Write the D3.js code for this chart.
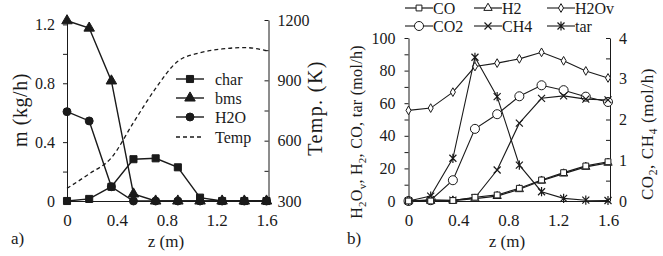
<!DOCTYPE html>
<html><head><meta charset="utf-8">
<script src="https://cdn.jsdelivr.net/npm/d3@7"></script>
<style>
body{margin:0;background:#fff}
svg{display:block}
text{font-family:"Liberation Serif","Times New Roman",serif;fill:#1a1a1a}
</style>
</head><body>
<svg id="c" width="663" height="256"></svg>
<script>
// ---------- data ----------
const zVals = [0, 0.178, 0.356, 0.533, 0.711, 0.889, 1.067, 1.244, 1.422, 1.6];
const xTicks = [0, 0.4, 0.8, 1.2, 1.6];

// panel a (kg/h and K)
const charVals = [0, 0.014, 0.097, 0.284, 0.29, 0.229, 0.023, 0, 0, 0];
const bmsVals  = [1.225, 1.175, 0.816, 0.048, 0, 0, 0, 0, 0, 0];
const h2oVals  = [0.607, 0.544, 0.097, 0, 0, 0, 0, 0, 0, 0];
const tempVals = [363, 435, 515, 690, 860, 995, 1037, 1056, 1063, 1048];
const aLeftTicks  = [0, 0.2, 0.4, 0.6, 0.8, 1, 1.2];
const aLeftLabels = [0, 0.4, 0.8, 1.2];
const aRightTicks = [300, 450, 600, 750, 900, 1050, 1200];
const aRightLabels = [300, 600, 900, 1200];

// panel b (mol/h)
const coVals   = [0, 0, 0.3, 2.3, 3.7, 7.8, 12.9, 17.4, 21.5, 24.1];
const h2Vals   = [0, 0, 0.2, 1.4, 3.0, 7.2, 12.4, 16.8, 20.9, 23.4];
const h2ovVals = [55.6, 57.0, 66.8, 82.5, 84.6, 87.2, 91.2, 86.0, 79.8, 75.5];
const tarVals  = [0, 3, 26.2, 88.2, 64, 22, 5.7, 1.6, 0.5, 0.3];
const co2Vals  = [0, 0.02, 0.51, 1.77, 2.13, 2.57, 2.84, 2.72, 2.56, 2.43];
const ch4Vals  = [0, 0.03, 0.02, 0.08, 0.76, 1.91, 2.52, 2.58, 2.5, 2.48];
const bLeftTicks  = [0, 10, 20, 30, 40, 50, 60, 70, 80, 90, 100];
const bLeftLabels = [0, 20, 40, 60, 80, 100];
const bRightTicks = [0, 0.5, 1, 1.5, 2, 2.5, 3, 3.5, 4];
const bRightLabels = [0, 1, 2, 3, 4];

// ---------- drawing ----------
const svg = d3.select("#c");
const INK = "#1a1a1a";
const FONT = '"Liberation Serif","Times New Roman",serif';

const xPath = "M-3.5,-3.5L3.5,3.5M-3.5,3.5L3.5,-3.5";
const starPath = "M-3.5,-3.5L3.5,3.5M-3.5,3.5L3.5,-3.5M0,-4.6L0,4.6";

function markerPath(type, size) {
  if (type === "x") return xPath;
  if (type === "star") return starPath;
  const t = {square: d3.symbolSquare, triangle: d3.symbolTriangle,
             circle: d3.symbolCircle, diamond: d3.symbolDiamond}[type];
  return d3.symbol().type(t).size(size)();
}

function styleAxis(fs) {
  return g => {
    g.attr("font-family", FONT);
    g.selectAll("path.domain").attr("stroke", INK).attr("stroke-width", 1);
    g.selectAll(".tick line").attr("stroke", INK).attr("stroke-width", 1);
    g.selectAll("text").attr("font-size", fs).attr("fill", INK).style("font-family", FONT);
  };
}

function series(g, x, y, vals, opt) {
  const line = d3.line().x((d, i) => x(zVals[i])).y(d => y(d));
  if (opt.curve) line.curve(opt.curve);
  g.append("path").attr("d", line(vals)).attr("fill", "none")
    .attr("stroke", INK).attr("stroke-width", opt.lw || 1.2)
    .attr("stroke-dasharray", opt.dash || null);
  if (!opt.marker) return;
  g.selectAll(null).data(vals).enter().append("path")
    .attr("transform", (d, i) => `translate(${x(zVals[i])},${y(d)})`)
    .attr("d", markerPath(opt.marker, opt.size))
    .attr("fill", opt.fill).attr("stroke", INK)
    .attr("stroke-width", opt.mlw || 1);
}

function legendEntry(g, lx, ly, opt, label, fs) {
  g.append("line").attr("x1", lx - 14).attr("x2", lx + 14).attr("y1", ly).attr("y2", ly)
    .attr("stroke", INK).attr("stroke-width", opt.lw || 1.2)
    .attr("stroke-dasharray", opt.dash || null);
  if (opt.marker) g.append("path").attr("transform", `translate(${lx},${ly})`)
    .attr("d", markerPath(opt.marker, opt.size))
    .attr("fill", opt.fill).attr("stroke", INK).attr("stroke-width", opt.mlw || 1);
  return g.append("text").attr("x", lx + opt.tx).attr("y", ly).attr("dy", "0.35em")
    .attr("font-size", fs).text(label);
}

function subText(g, tx, ty, parts, fs, spacing) {
  const t = g.append("text").attr("transform", `translate(${tx},${ty}) rotate(-90)`)
    .attr("text-anchor", "middle").attr("font-size", fs)
    .attr("letter-spacing", spacing || 0);
  parts.forEach((p, i) => {
    const s = t.append("tspan").text(p[0]);
    if (p[1]) s.attr("font-size", fs * 0.68).attr("dy", 4);
    else if (i > 0 && parts[i - 1][1]) s.attr("dy", -4);
  });
  return t;
}

// ===== panel a =====
{
  const g = svg.append("g");
  const x = d3.scaleLinear().domain([0, 1.6]).range([67, 266.5]);
  const yL = d3.scaleLinear().domain([0, 1.23]).range([201, 20]);
  const yR = d3.scaleLinear().domain([300, 1200]).range([201, 20]);

  g.append("g").attr("transform", "translate(0,201)")
    .call(d3.axisBottom(x).tickValues(xTicks).tickSize(0).tickPadding(13)
      .tickFormat(d3.format("")))
    .call(styleAxis(17));
  g.append("g").attr("transform", "translate(67,0)")
    .call(d3.axisLeft(yL).tickValues(aLeftTicks).tickSizeInner(4).tickSizeOuter(0)
      .tickPadding(8).tickFormat(d => aLeftLabels.includes(d) ? d3.format("")(d) : ""))
    .call(styleAxis(16));
  g.append("g").attr("transform", `translate(${x(1.6) + 2},0)`)
    .call(d3.axisRight(yR).tickValues(aRightTicks).tickSizeInner(-4).tickSizeOuter(0)
      .tickPadding(9).tickFormat(d => aRightLabels.includes(d) ? d : ""))
    .call(styleAxis(16));

  const optChar = {marker: "square", size: 50, fill: INK, lw: 1.4};
  const optBms  = {marker: "triangle", size: 48, fill: INK, lw: 1.4};
  const optH2o  = {marker: "circle", size: 50, fill: INK, lw: 1.4};
  const optTemp = {dash: "4,3", lw: 1.3, curve: d3.curveMonotoneX};

  series(g, x, yR, tempVals, optTemp);
  series(g, x, yL, h2oVals, optH2o);
  series(g, x, yL, bmsVals, optBms);
  series(g, x, yL, charVals, optChar);

  const lg = g.append("g");
  legendEntry(lg, 190, 79, {...optChar, tx: 25}, "char", 16);
  legendEntry(lg, 190, 98, {...optBms, tx: 25}, "bms", 16);
  legendEntry(lg, 190, 117, {...optH2o, tx: 25}, "H2O", 16);
  legendEntry(lg, 190, 137, {...optTemp, tx: 25}, "Temp", 16);

  g.append("text").attr("transform", "translate(27,110) rotate(-90)")
    .attr("text-anchor", "middle").attr("font-size", 20)
    .attr("letter-spacing", 0.6).text("m (kg/h)");
  g.append("text").attr("transform", "translate(322,108) rotate(-90)")
    .attr("text-anchor", "middle").attr("font-size", 20)
    .attr("letter-spacing", 1.4).text("Temp. (K)");
  g.append("text").attr("x", 166).attr("y", 247).attr("text-anchor", "middle")
    .attr("font-size", 17).text("z (m)");
  g.append("text").attr("x", 11).attr("y", 244).attr("font-size", 17).text("a)");
}

// ===== panel b =====
{
  const g = svg.append("g");
  const x = d3.scaleLinear().domain([0, 1.6]).range([408.5, 608]);
  const yL = d3.scaleLinear().domain([0, 100]).range([201, 38]);
  const yR = d3.scaleLinear().domain([0, 4]).range([201, 38]);

  g.append("g").attr("transform", "translate(0,201)")
    .call(d3.axisBottom(x).tickValues(xTicks).tickSize(0).tickPadding(13)
      .tickFormat(d3.format("")))
    .call(styleAxis(17));
  g.append("g").attr("transform", "translate(408.5,0)")
    .call(d3.axisLeft(yL).tickValues(bLeftTicks).tickSizeInner(4).tickSizeOuter(0)
      .tickPadding(9).tickFormat(d => bLeftLabels.includes(d) ? d : ""))
    .call(styleAxis(16));
  g.append("g").attr("transform", `translate(${x(1.6) + 2},0)`)
    .call(d3.axisRight(yR).tickValues(bRightTicks).tickSizeInner(-4).tickSizeOuter(0)
      .tickPadding(9).tickFormat(d => bRightLabels.includes(d) ? d : ""))
    .call(styleAxis(16));

  const optCO   = {marker: "square", size: 34, fill: "#fff", lw: 1.2};
  const optH2   = {marker: "triangle", size: 30, fill: "#fff", lw: 1.2};
  const optH2ov = {marker: "diamond", size: 22, fill: "#fff", lw: 1.1};
  const optCO2  = {marker: "circle", size: 64, fill: "#fff", lw: 1.1};
  const optCH4  = {marker: "x", fill: "none", lw: 1.1, mlw: 1.2};
  const optTar  = {marker: "star", fill: "none", lw: 1.1, mlw: 1.2};

  series(g, x, yL, h2ovVals, optH2ov);
  series(g, x, yR, co2Vals, optCO2);
  series(g, x, yR, ch4Vals, optCH4);
  series(g, x, yL, tarVals, optTar);
  series(g, x, yL, h2Vals, optH2);
  series(g, x, yL, coVals, optCO);

  const lg = g.append("g");
  legendEntry(lg, 419, 8, {...optCO, tx: 14}, "CO", 16);
  legendEntry(lg, 488, 8, {...optH2, tx: 14}, "H2", 16);
  legendEntry(lg, 561, 8, {...optH2ov, tx: 14}, "H2Ov", 16);
  legendEntry(lg, 419, 26, {...optCO2, tx: 14}, "CO2", 16);
  legendEntry(lg, 488, 26, {...optCH4, tx: 14}, "CH4", 16);
  legendEntry(lg, 561, 26, {...optTar, tx: 14}, "tar", 16);

  subText(g, 362, 132, [["H"], ["2", 1], ["O"], ["v", 1], [", H"], ["2", 1], [", CO, tar (mol/h)"]], 16, 0.3);
  subText(g, 653, 134, [["CO"], ["2", 1], [", CH"], ["4", 1], [" (mol/h)"]], 17, 0.6);

  g.append("text").attr("x", 507).attr("y", 247).attr("text-anchor", "middle")
    .attr("font-size", 17).text("z (m)");
  g.append("text").attr("x", 347).attr("y", 244).attr("font-size", 17).text("b)");
}
</script>
</body></html>
